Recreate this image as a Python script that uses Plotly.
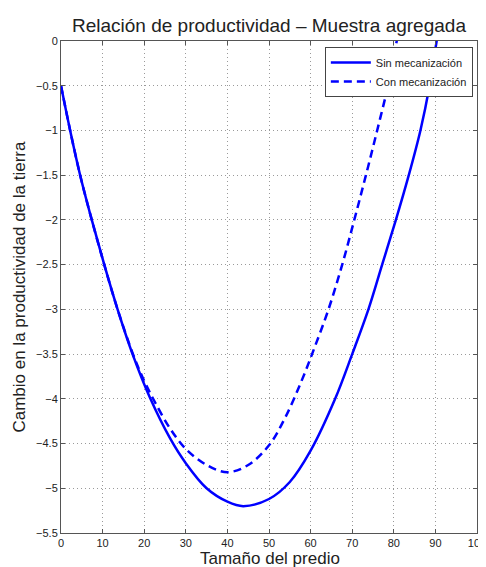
import plotly.graph_objects as go

# Data
x_sin = [0, 2.2, 4.6, 7.4, 10.4, 13.6, 17.2, 21.5, 26.2, 30, 35, 40, 43.8, 50, 55,
         60, 65.9, 70, 73.9, 77.2, 80.5, 83.6, 86.4, 88.6, 90.3, 91]
y_sin = [-0.5, -1.0, -1.5, -2.0, -2.5, -3.0, -3.5, -4.0, -4.44, -4.72, -5.0, -5.15, -5.2, -5.12, -4.93,
         -4.58, -4.0, -3.5, -3.0, -2.5, -2.0, -1.5, -1.0, -0.5, 0.0, 0.2]

x_con = [0, 2.2, 4.6, 7.4, 10.4, 13.6, 17.3, 20, 22.5, 26.2, 30, 35, 40, 45, 50,
         54, 58, 61, 64.3, 67.6, 70.5, 73.3, 76, 78.6, 80.7, 81.4]
y_con = [-0.5, -1.0, -1.5, -2.0, -2.5, -3.0, -3.5, -3.8, -4.03, -4.33, -4.56, -4.74, -4.82, -4.74, -4.52,
         -4.2, -3.78, -3.42, -3.0, -2.5, -2.0, -1.5, -1.0, -0.5, 0.0, 0.2]

x_ticks = list(range(0, 101, 10))
y_ticks = [0, -0.5, -1, -1.5, -2, -2.5, -3, -3.5, -4, -4.5, -5, -5.5]

fig = go.Figure()
fig.add_trace(go.Scatter(x=x_sin, y=y_sin, mode="lines", name="Sin mecanización",
                         line=dict(color="#0000FF", width=2.5, shape="spline", smoothing=1.0)))
fig.add_trace(go.Scatter(x=x_con, y=y_con, mode="lines", name="Con mecanización",
                         line=dict(color="#0000FF", width=2.5, dash="8px,5px", shape="spline", smoothing=1.0)))

axis_common = dict(showline=True, linecolor="#555555", linewidth=1, mirror="ticks",
                   ticks="inside", ticklen=4, tickcolor="#555555",
                   showgrid=True, gridcolor="#9A9A9A", griddash="1px,3px", gridwidth=1,
                   zeroline=False, automargin=False, ticklabeloverflow="allow",
                   tickfont=dict(size=11, color="#222222"))

# The page body adds an 8px offset; the figure is sized to fit the window with it.
fig.update_layout(
    width=478, height=559,
    margin=dict(l=53, r=9, t=33, b=34),
    paper_bgcolor="white", plot_bgcolor="white",
    font=dict(family="Liberation Sans, Arial, sans-serif", color="#222222"),
    title=dict(text="Relación de productividad – Muestra agregada", x=0.546, xanchor="center",
               y=0.9696, yanchor="middle", font=dict(size=19, color="#222222")),
    xaxis=dict(range=[0, 100], tickvals=x_ticks, **axis_common),
    yaxis=dict(range=[-5.5, 0], tickvals=y_ticks, **axis_common),
    legend=dict(x=0.990, y=0.988, xanchor="right", yanchor="top", bgcolor="white",
                bordercolor="#444444", borderwidth=1, font=dict(size=11, color="#222222"),
                tracegroupgap=0, itemwidth=40),
    showlegend=True,
    annotations=[
        dict(text="Tamaño del predio", xref="paper", yref="paper", x=0.502, y=-0.0528,
             xanchor="center", yanchor="middle", showarrow=False, font=dict(size=17, color="#222222")),
        dict(text="Cambio en la productividad de la tierra", xref="paper", yref="paper",
             x=-0.102, y=0.5, xanchor="center", yanchor="middle", textangle=-90,
             showarrow=False, font=dict(size=17, color="#222222")),
    ],
)

fig.write_html("out.html")
